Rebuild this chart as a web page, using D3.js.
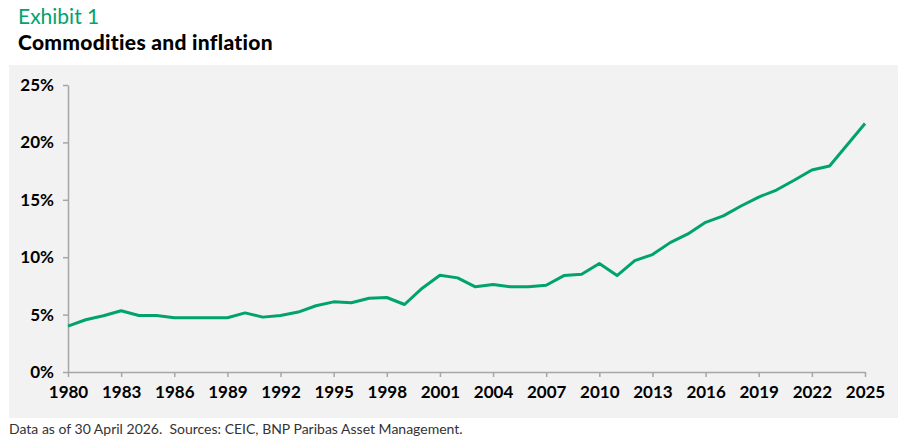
<!DOCTYPE html>
<html>
<head>
<meta charset="utf-8">
<script src="https://cdn.jsdelivr.net/npm/d3@7"></script>
<style>
  body { margin: 0; background: #fff; }
  svg { display: block; font-family: Lato, "Open Sans", sans-serif; }
</style>
</head>
<body>
<div id="chart"></div>
<script>
// annual values, %
const years = d3.range(1980, 2026)
const values = [
  4.0, 4.55, 4.9, 5.33, 4.92, 4.92, 4.72, 4.72, 4.72, 4.72,
  5.15, 4.78, 4.92, 5.22, 5.77, 6.11, 6.03, 6.43, 6.49, 5.88,
  7.3, 8.43, 8.2, 7.42, 7.62, 7.42, 7.42, 7.56, 8.4, 8.52,
  9.45, 8.4, 9.7, 10.23, 11.27, 12.03, 13.04, 13.6, 14.46, 15.24,
  15.85, 16.7, 17.6, 17.94, 19.8, 21.65
]
const xTicks = d3.range(1980, 2026, 3)
const yTicks = [0, 5, 10, 15, 20, 25]

const W = 900, H = 437
const margin = {top: 85, right: 35, bottom: 65, left: 68}
const width = W - margin.left - margin.right
const height = H - margin.top - margin.bottom

const svg = d3.select('#chart')
  .append('svg')
  .attr('width', W)
  .attr('height', H)

svg.append('text')
  .attr('x', 18).attr('y', 24)
  .text('Exhibit 1')
  .style('fill', '#00a36c')
  .style('font-size', '21px')

svg.append('text')
  .attr('x', 18).attr('y', 50)
  .text('Commodities and inflation')
  .style('fill', '#000')
  .style('font-size', '21px')
  .style('font-weight', 900)
  .style('letter-spacing', '0.3px')

svg.append('rect')
  .attr('x', 9).attr('y', 65)
  .attr('width', 889).attr('height', 353)
  .style('fill', '#f2f2f2')

svg.append('text')
  .attr('x', 9).attr('y', 434)
  .text('Data as of 30 April 2026.\u00a0 Sources: CEIC, BNP Paribas Asset Management.')
  .style('fill', '#333')
  .style('font-size', '14px')

const g = svg.append('g')
  .attr('transform', `translate(${margin.left}, ${margin.top})`)

const x = d3.scaleLinear().domain([1980, 2025]).range([0, width])
const y = d3.scaleLinear().domain([0, 25]).range([height, 0])

const xAxis = g.append('g')
  .attr('transform', `translate(0, ${height})`)
  .call(d3.axisBottom(x).tickValues(xTicks).tickFormat(d3.format('d')).tickSize(5).tickSizeOuter(0))

const yAxis = g.append('g')
  .call(d3.axisLeft(y).tickValues(yTicks).tickFormat(d => d + '%').tickSize(5).tickSizeOuter(0))

;[xAxis, yAxis].forEach(a => {
  a.select('.domain').style('stroke', '#a6a6a6').style('stroke-width', 1.5)
  a.selectAll('.tick line').style('stroke', '#a6a6a6').style('stroke-width', 1.5)
  a.selectAll('.tick text')
    .style('fill', '#000')
    .style('font-size', '17px')
    .style('font-weight', 700)
    .style('font-family', 'Lato, sans-serif')
})
xAxis.selectAll('.tick text').attr('dy', '1.05em')
yAxis.selectAll('.tick text').attr('x', -14)

const line = d3.line()
  .x((d, i) => x(years[i]))
  .y(d => y(d))

g.append('path')
  .datum(values)
  .attr('d', line)
  .style('fill', 'none')
  .style('stroke', '#00a36c')
  .style('stroke-width', 3)
  .style('stroke-linejoin', 'round')
</script>
</body>
</html>
